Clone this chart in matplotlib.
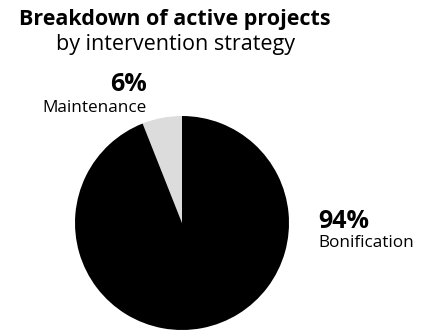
import matplotlib.pyplot as plt

plt.rcParams["font.family"] = ["Open Sans", "DejaVu Sans"]

categories = ["Maintenance", "Bonification"]
shares = [6, 94]
colors = ["#dcdcdc", "#000000"]

W, H = 429, 336
fig = plt.figure(figsize=(W / 100, H / 100), dpi=100)


def px(x, y):
    return x / W, 1 - y / H


# pie centred at (182, 223) px with radius 107 px
cx, cy, r = 182, 223, 107
ax = fig.add_axes([(cx - r) / W, 1 - (cy + r) / H, 2 * r / W, 2 * r / H])
ax.pie(shares, colors=colors, startangle=90, counterclock=True, radius=1,
       wedgeprops=dict(linewidth=0))
ax.set_xlim(-1, 1)
ax.set_ylim(-1, 1)
ax.set_aspect("equal")
ax.axis("off")

fig.text(*px(175, 25), "Breakdown of active projects", ha="center",
         va="baseline", fontsize=15.5, fontweight="bold")
fig.text(*px(175, 50), "by intervention strategy", ha="center",
         va="baseline", fontsize=15.5)

# value labels
fig.text(*px(147, 91), f"{shares[0]}%", ha="right", va="baseline",
         fontsize=18, fontweight="bold")
fig.text(*px(147, 112), categories[0], ha="right", va="baseline", fontsize=12.3)
fig.text(*px(318, 228), f"{shares[1]}%", ha="left", va="baseline",
         fontsize=18, fontweight="bold")
fig.text(*px(318, 247), categories[1], ha="left", va="baseline", fontsize=12.3)

fig.savefig("out.png", dpi=100)
